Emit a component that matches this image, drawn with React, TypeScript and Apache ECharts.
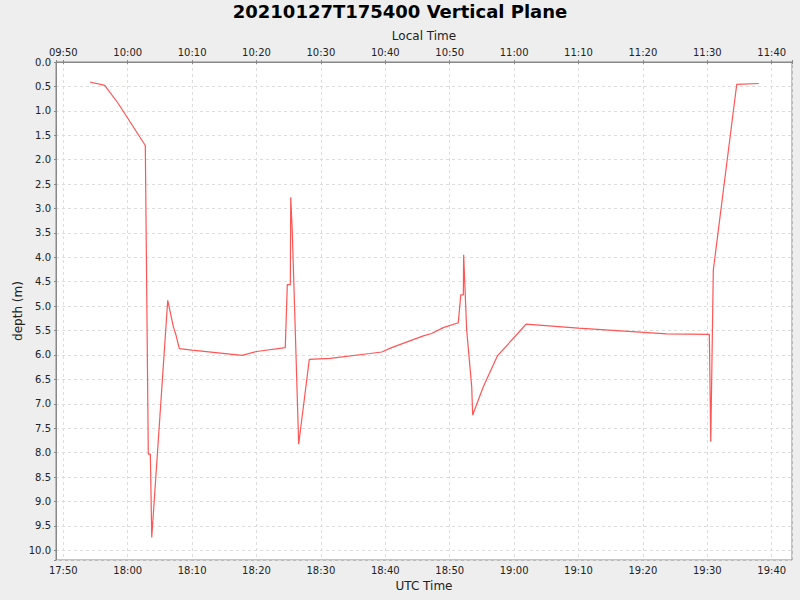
import React, { useEffect, useRef } from "react";
import * as echarts from "echarts";

const titleText = "20210127T175400 Vertical Plane";
const utcTimes = [
  "17:54:09", "17:56:26", "17:58:32", "18:02:44", "18:03:12", "18:03:31", "18:03:44",
  "18:06:13", "18:07:05", "18:07:27", "18:08:01", "18:09:59", "18:17:45", "18:20:02",
  "18:24:28", "18:24:47", "18:25:15", "18:25:19", "18:25:34", "18:26:33", "18:28:12",
  "18:31:25", "18:37:37", "18:39:26", "18:40:59", "18:45:54", "18:47:12", "18:49:00",
  "18:51:20", "18:51:43", "18:52:07", "18:52:10", "18:52:38", "18:53:25", "18:53:34",
  "18:55:13", "18:57:24", "19:00:55", "19:01:51", "19:09:58", "19:23:42", "19:30:19",
  "19:30:32", "19:30:56", "19:34:34", "19:37:59",
];
const depths = [
  0.41, 0.48, 0.85, 1.71, 8.03, 8.03, 9.74,
  4.88, 5.42, 5.57, 5.87, 5.9, 6.01, 5.93,
  5.85, 4.56, 4.56, 2.77, 3.51, 7.83, 6.09,
  6.07, 5.97, 5.94, 5.85, 5.61, 5.56, 5.44,
  5.34, 4.77, 4.77, 3.95, 5.49, 6.65, 7.23,
  6.65, 6.02, 5.51, 5.37, 5.45, 5.57, 5.58,
  7.78, 4.26, 0.46, 0.44,
];
const axisStartUtc = "17:48:52";
const axisEndUtc = "19:43:09";
const localOffsetHours = -8;
const depthMax = 10.2;

const toMinutes = (s: string) => {
  const [h, m, sec] = s.split(":").map(Number);
  return h * 60 + m + (sec || 0) / 60;
};
const fmtHM = (mins: number) => {
  const t = ((Math.round(mins) % 1440) + 1440) % 1440;
  const h = Math.floor(t / 60);
  const m = t % 60;
  return String(h).padStart(2, "0") + ":" + String(m).padStart(2, "0");
};
const isMultiple = (v: number, step: number) =>
  Math.abs(v / step - Math.round(v / step)) < 1e-6;

export default function App() {
  const ref = useRef<HTMLDivElement>(null);
  useEffect(() => {
    if (!ref.current) return;
    const chart = echarts.init(ref.current, null, { renderer: "svg" });
    const xmin = toMinutes(axisStartUtc);
    const xmax = toMinutes(axisEndUtc);
    const offset = localOffsetHours * 60;
    const data = utcTimes.map((t, i) => [toMinutes(t), depths[i]]);
    const font = "DejaVu Sans";
    const axisCommon = {
      type: "value" as const,
      splitNumber: 11,
      nameMoveOverlap: false,
      axisLine: { show: true, lineStyle: { color: "#888888", width: 1 } },
      axisTick: { show: true, length: 2, lineStyle: { color: "#888888" } },
      nameTextStyle: { fontFamily: font, fontSize: 12, color: "#222" },
    };
    chart.setOption({
      animation: false,
      backgroundColor: "#eeeeee",
      title: {
        text: titleText,
        left: "center",
        top: -3,
        textStyle: { fontFamily: font, fontSize: 18, fontWeight: "bold", color: "#000" },
      },
      grid: {
        left: 56,
        right: 8,
        top: 62,
        bottom: 40,
        show: true,
        backgroundColor: "#ffffff",
        borderColor: "#888888",
        borderWidth: 1,
      },
      xAxis: [
        {
          ...axisCommon,
          position: "bottom",
          min: xmin,
          max: xmax,
          name: "UTC Time",
          nameLocation: "middle",
          nameGap: 20,
          axisLabel: {
            fontFamily: font,
            fontSize: 10,
            color: "#222",
            margin: 5,
            formatter: (v: number) => (isMultiple(v, 10) ? fmtHM(v) : ""),
          },
          splitLine: { show: true, lineStyle: { color: "#dddddd", type: [3, 3] } },
        },
        {
          ...axisCommon,
          position: "top",
          min: xmin + offset,
          max: xmax + offset,
          name: "Local Time",
          nameLocation: "middle",
          nameGap: 20,
          axisLabel: {
            fontFamily: font,
            fontSize: 10,
            color: "#222",
            margin: 5,
            formatter: (v: number) => (isMultiple(v, 10) ? fmtHM(v) : ""),
          },
          splitLine: { show: false },
        },
      ],
      yAxis: {
        type: "value",
        inverse: true,
        min: 0,
        max: depthMax,
        interval: 0.5,
        name: "depth (m)",
        nameLocation: "middle",
        nameGap: 32,
        nameMoveOverlap: false,
        nameTextStyle: { fontFamily: font, fontSize: 12, color: "#222" },
        axisLine: { show: true, lineStyle: { color: "#888888", width: 1 } },
        axisTick: { show: true, length: 2, lineStyle: { color: "#888888" } },
        axisLabel: {
          fontFamily: font,
          fontSize: 10,
          color: "#222",
          margin: 5,
          formatter: (v: number) => (isMultiple(v, 0.5) ? v.toFixed(1) : ""),
        },
        splitLine: { show: true, lineStyle: { color: "#dddddd", type: [3, 3] } },
      },
      series: [
        {
          type: "line",
          xAxisIndex: 0,
          data,
          showSymbol: false,
          symbol: "none",
          lineStyle: { color: "#ff5555", width: 1.2 },
        },
      ],
    });
    return () => chart.dispose();
  }, []);
  return (
    <div
      ref={ref}
      style={{ position: "absolute", left: 0, top: 0, width: 800, height: 600 }}
    />
  );
}
